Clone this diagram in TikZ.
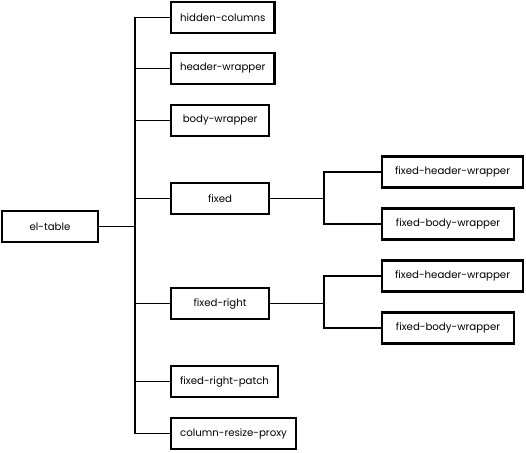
\documentclass[tikz,border=0pt]{standalone}
\usepackage{fontspec}
\setmainfont{Poppins}
\begin{document}
\begin{tikzpicture}[x=1pt,y=1pt,
  box/.style={draw=black, line width=2.2pt, fill=white, inner xsep=9pt, inner ysep=0pt, minimum height=31pt, font=\fontsize{10.2}{12}\selectfont},
  midbox/.style={box, anchor=west, minimum width=98pt},
  rbox/.style={box, anchor=west, minimum width=132pt},
  conn/.style={draw=black, line width=1.8pt}]
\useasboundingbox (0,0) rectangle (526,-452);
\node[box, minimum width=96pt] (et) at (50,-226.5) {el-table};
\node[midbox] (hc) at (170,-17.5) {hidden-columns};
\node[midbox] (hw) at (170,-68.5) {header-wrapper};
\node[midbox] (bw) at (170,-120.5) {body-wrapper};
\node[midbox] (fx) at (170,-198.5) {fixed};
\node[midbox] (fr) at (170,-303.5) {fixed-right};
\node[midbox] (frp) at (170,-381.5) {fixed-right-patch};
\node[midbox] (crp) at (170,-433.5) {column-resize-proxy};
\node[rbox, minimum width=141pt] (fhw1) at (381,-172) {fixed-header-wrapper};
\node[rbox] (fbw1) at (381,-224) {fixed-body-wrapper};
\node[rbox, minimum width=141pt] (fhw2) at (381,-276) {fixed-header-wrapper};
\node[rbox] (fbw2) at (381,-328) {fixed-body-wrapper};
\coordinate (trunk) at (135,-226.5);
\coordinate (b1) at (324,-198.5);
\coordinate (b2) at (324,-303.5);
\foreach \c in {hc,hw,bw,fx,fr,frp,crp}
  \draw[conn] (et.east) -- (trunk) |- (\c.west);
\draw[conn] (fx.east) -- (b1) |- (fhw1.west);
\draw[conn] (b1) |- (fbw1.west);
\draw[conn] (fr.east) -- (b2) |- (fhw2.west);
\draw[conn] (b2) |- (fbw2.west);
\end{tikzpicture}
\end{document}
